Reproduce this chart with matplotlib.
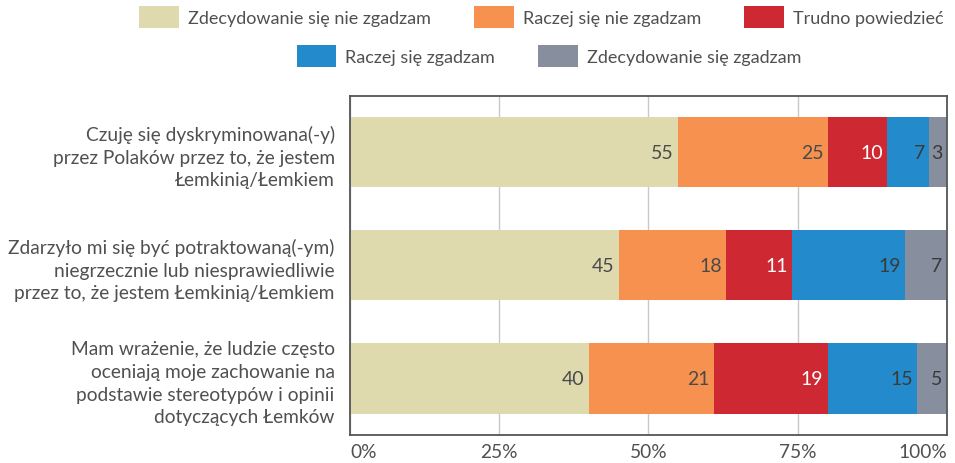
import matplotlib
matplotlib.use('Agg')
import matplotlib.pyplot as plt
from matplotlib.patches import Patch
import numpy as np

plt.rcParams['font.family'] = ['Lato', 'DejaVu Sans']

# data
questions = [
    'Czuję się dyskryminowana(-y)\nprzez Polaków przez to, że jestem\nŁemkinią/Łemkiem',
    'Zdarzyło mi się być potraktowaną(-ym)\nniegrzecznie lub niesprawiedliwie\nprzez to, że jestem Łemkinią/Łemkiem',
    'Mam wrażenie, że ludzie często\noceniają moje zachowanie na\npodstawie stereotypów i opinii\ndotyczących Łemków',
]
answers = ['Zdecydowanie się nie zgadzam', 'Raczej się nie zgadzam', 'Trudno powiedzieć',
           'Raczej się zgadzam', 'Zdecydowanie się zgadzam']
strongly_disagree = [55, 45, 40]
disagree = [25, 18, 21]
hard_to_say = [10, 11, 19]
agree = [7, 19, 15]
strongly_agree = [3, 7, 5]
xticks = [0, 25, 50, 75, 100]
xticklabels = ['0%', '25%', '50%', '75%', '100%']

colors = ['#DFDAAE', '#F79150', '#CE2833', '#238BCB', '#878F9F']
label_colors = ['#4a4a4a', '#4a4a4a', 'white', '#3a3a3a', '#3a3a3a']
txt = '#505050'

series = [strongly_disagree, disagree, hard_to_say, agree, strongly_agree]

fig = plt.figure(figsize=(9.55, 4.64), dpi=100)
ax = fig.add_axes([0.3665, 0.0603, 0.625, 0.731])

y = np.arange(len(questions))
left = np.zeros(len(questions))
for vals, c, lc in zip(series, colors, label_colors):
    vals = np.array(vals)
    bars = ax.barh(y, vals, left=left, height=0.62, color=c, zorder=2)
    for b, v in zip(bars, vals):
        ax.annotate(str(v), (b.get_x() + b.get_width(), b.get_y() + b.get_height() / 2),
                    xytext=(-3, 0), textcoords='offset points', ha='right', va='center',
                    fontsize=14, color=lc, zorder=3)
    left += vals

ax.set_xlim(0, 100)
ax.set_ylim(2.5, -0.5)
ax.set_xticks(xticks)
ax.set_xticklabels(xticklabels)
ax.get_xticklabels()[0].set_horizontalalignment('left')
ax.get_xticklabels()[-1].set_horizontalalignment('right')
ax.set_yticks(y)
ax.set_yticklabels(questions, ha='right', linespacing=1.4)
ax.tick_params(axis='both', length=0, labelsize=13.8, colors=txt)
ax.tick_params(axis='y', pad=11)
ax.tick_params(axis='x', pad=6)
ax.grid(axis='x', color='#C8C8C8', linewidth=1, zorder=0)
for s in ax.spines.values():
    s.set_color('#555555')
    s.set_linewidth(1.3)

handles = [Patch(facecolor=c, edgecolor='none') for c in colors]
common = dict(frameon=False, fontsize=13, handlelength=2.2, handleheight=1.5,
              handletextpad=0.5, columnspacing=2.4, labelcolor=txt, borderaxespad=0, borderpad=0)
leg1 = fig.legend(handles[:3], answers[:3], ncol=3, loc='center', bbox_to_anchor=(0.567, 0.961), **common)
leg2 = fig.legend(handles[3:], answers[3:], ncol=2, loc='center', bbox_to_anchor=(0.575, 0.877), **common)

fig.savefig('out.png', dpi=100)
